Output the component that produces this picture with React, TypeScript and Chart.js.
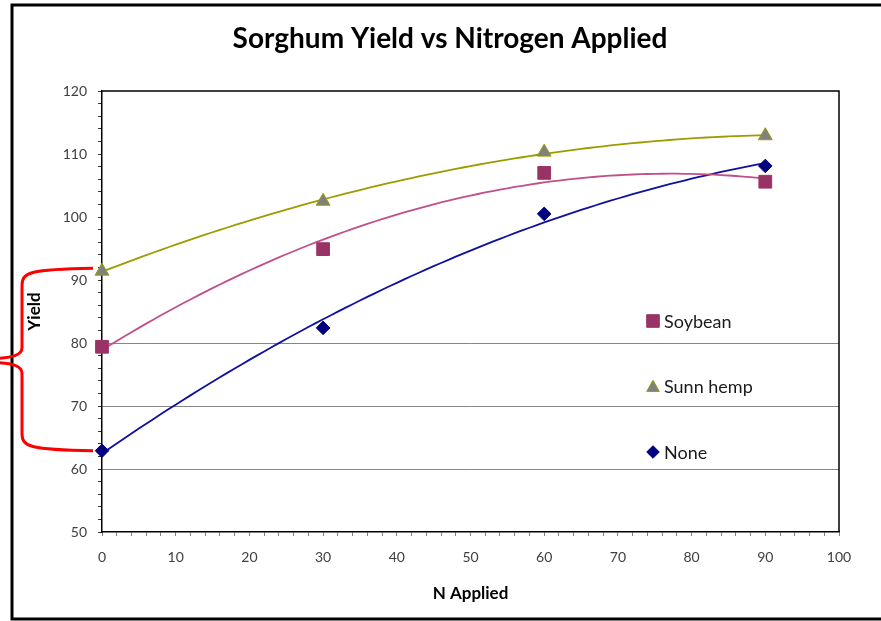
import React, { useEffect, useRef } from 'react';
import { Chart, registerables } from 'chart.js';
Chart.register(...registerables);

const chartTitle = 'Sorghum Yield vs Nitrogen Applied';
const xTitle = 'N Applied';
const yTitle = 'Yield';
const nApplied = [0, 30, 60, 90];
const soybean = [79.4, 94.9, 107.0, 105.6];
const sunnHemp = [91.4, 102.5, 110.3, 112.9];
const noneCover = [62.9, 82.4, 100.5, 108.1];
const seriesNames = ['Soybean', 'Sunn hemp', 'None'];
const yGridValues = [60, 70, 80];

const FONT = 'Lato, "Open Sans", sans-serif';

function quadFit(xs: number[], ys: number[]): number[] {
  const S = [0, 0, 0, 0, 0];
  const T = [0, 0, 0];
  for (let i = 0; i < xs.length; i++) {
    for (let k = 0; k < 5; k++) S[k] += Math.pow(xs[i], k);
    for (let k = 0; k < 3; k++) T[k] += ys[i] * Math.pow(xs[i], k);
  }
  const A = [
    [S[0], S[1], S[2], T[0]],
    [S[1], S[2], S[3], T[1]],
    [S[2], S[3], S[4], T[2]],
  ];
  for (let c = 0; c < 3; c++) {
    let p = c;
    for (let r = c + 1; r < 3; r++) if (Math.abs(A[r][c]) > Math.abs(A[p][c])) p = r;
    [A[c], A[p]] = [A[p], A[c]];
    for (let r = 0; r < 3; r++) {
      if (r === c) continue;
      const f = A[r][c] / A[c][c];
      for (let k = c; k < 4; k++) A[r][k] -= f * A[c][k];
    }
  }
  return [A[0][3] / A[0][0], A[1][3] / A[1][1], A[2][3] / A[2][2]];
}

function trend(ys: number[]) {
  const [a, b, c] = quadFit(nApplied, ys);
  const out: { x: number; y: number }[] = [];
  const xmax = nApplied[nApplied.length - 1];
  for (let x = nApplied[0]; x <= xmax; x += 1) out.push({ x, y: a + b * x + c * x * x });
  return out;
}

const pts = (ys: number[]) => nApplied.map((x, i) => ({ x, y: ys[i] }));

const styles = [
  { marker: '#993366', border: '#993366', line: '#C0508A', shape: 'rect', r: 9 },
  { marker: '#808080', border: '#9C9C00', line: '#9C9C00', shape: 'triangle', r: 8 },
  { marker: '#000080', border: '#000080', line: '#1010A0', shape: 'rectRot', r: 6.8 },
];

function drawShape(ctx: CanvasRenderingContext2D, shape: string, x: number, y: number, fill: string, stroke: string) {
  const h = 6.3;
  ctx.save();
  ctx.fillStyle = fill;
  ctx.strokeStyle = stroke;
  ctx.lineWidth = 1;
  ctx.beginPath();
  if (shape === 'rect') {
    ctx.rect(x - h, y - h, 2 * h, 2 * h);
  } else if (shape === 'triangle') {
    ctx.moveTo(x, y - h);
    ctx.lineTo(x + h, y + h * 0.8);
    ctx.lineTo(x - h, y + h * 0.8);
    ctx.closePath();
  } else {
    ctx.moveTo(x, y - h);
    ctx.lineTo(x + h, y);
    ctx.lineTo(x, y + h);
    ctx.lineTo(x - h, y);
    ctx.closePath();
  }
  ctx.fill();
  ctx.stroke();
  ctx.restore();
}

const decorPlugin = {
  id: 'decor',
  afterDraw(chart: any) {
    const { ctx, chartArea: ca, scales } = chart;
    const ys = scales.y;
    ctx.save();
    // title
    ctx.fillStyle = '#000';
    ctx.font = `bold 28px ${FONT}`;
    ctx.textAlign = 'center';
    ctx.textBaseline = 'middle';
    ctx.fillText(chartTitle, 450, 39);

    // plot area top/right border
    ctx.strokeStyle = '#000';
    ctx.lineWidth = 1.5;
    ctx.beginPath();
    ctx.moveTo(ca.left, ca.top);
    ctx.lineTo(ca.right, ca.top);
    ctx.lineTo(ca.right, ca.bottom);
    ctx.stroke();

    // outer frame
    ctx.lineWidth = 3;
    ctx.beginPath();
    ctx.moveTo(chart.width + 5, 5);
    ctx.lineTo(12, 5);
    ctx.lineTo(12, 619);
    ctx.lineTo(chart.width + 5, 619);
    ctx.stroke();

    // legend
    const lx = ca.left + 551;
    const ly0 = ca.top + 230;
    const gap = 65.5;
    ctx.font = `18px ${FONT}`;
    ctx.textBaseline = 'middle';
    ctx.textAlign = 'left';
    seriesNames.forEach((name, i) => {
      const st = styles[i];
      const y = ly0 + i * gap;
      drawShape(ctx, st.shape, lx, y, st.marker, st.border);
      ctx.fillStyle = '#1a1a1a';
      ctx.fillText(name, lx + 11, y + 1);
    });

    // red brace annotation
    const top = ys.getPixelForValue(sunnHemp[0]) - 3;
    const bot = ys.getPixelForValue(noneCover[0]);
    const mid = (top + bot) / 2;
    const xa = ca.left - 9;
    const xv = ca.left - 80;
    const xp = ca.left - 106;
    ctx.strokeStyle = '#FF0000';
    ctx.lineWidth = 3;
    ctx.lineJoin = 'round';
    ctx.beginPath();
    ctx.moveTo(xa, top);
    ctx.bezierCurveTo(xv + 8, top + 1, xv, top + 4, xv, top + 17);
    ctx.lineTo(xv, mid - 12);
    ctx.bezierCurveTo(xv, mid - 4, xv - 10, mid - 2, xp, mid - 1);
    ctx.moveTo(xp, mid + 3);
    ctx.bezierCurveTo(xv - 10, mid + 4, xv, mid + 6, xv, mid + 14);
    ctx.lineTo(xv, bot - 17);
    ctx.bezierCurveTo(xv, bot - 4, xv + 8, bot - 1, xa, bot);
    ctx.stroke();
    ctx.restore();
  },
};

export default function App() {
  const ref = useRef<HTMLCanvasElement>(null);
  useEffect(() => {
    if (!ref.current) return;
    const seriesData = [soybean, sunnHemp, noneCover];
    const datasets: any[] = [];
    seriesData.forEach((ys, i) => {
      const st = styles[i];
      datasets.push({
        label: seriesNames[i] + ' trend',
        data: trend(ys),
        showLine: true,
        borderColor: st.line,
        borderWidth: 1.8,
        pointRadius: 0,
        tension: 0,
        order: 2,
        clip: false,
      });
    });
    seriesData.forEach((ys, i) => {
      const st = styles[i];
      datasets.push({
        label: seriesNames[i],
        data: pts(ys),
        showLine: false,
        pointStyle: st.shape,
        pointRadius: st.r,
        backgroundColor: st.marker,
        borderColor: st.border,
        borderWidth: 1,
        order: 1,
        clip: false,
      });
    });
    const chart = new Chart(ref.current, {
      type: 'scatter',
      data: { datasets },
      plugins: [decorPlugin],
      options: {
        responsive: false,
        animation: false,
        layout: { padding: { left: 0, right: 42, top: 91, bottom: 0 } },
        plugins: {
          legend: { display: false },
          tooltip: { enabled: false },
          title: { display: false },
        },
        scales: {
          x: {
            type: 'linear',
            min: 0,
            max: 100,
            afterFit: (s: any) => { s.height = 89; },
            ticks: {
              stepSize: 2,
              autoSkip: false,
              maxRotation: 0,
              padding: 13,
              color: '#404040',
              font: { family: FONT, size: 14 },
              callback: (v: any) => (Number(v) % 10 === 0 ? String(v) : ''),
            },
            grid: {
              color: 'rgba(0,0,0,0)',
              tickColor: '#808080',
              tickLength: 4,
            },
            border: { color: '#000', width: 1.5 },
            title: {
              display: true,
              text: xTitle,
              color: '#000',
              font: { family: FONT, size: 17, weight: 'bold' },
              padding: { top: 0, bottom: 17 },
            },
          },
          y: {
            type: 'linear',
            min: 50,
            max: 120,
            afterFit: (s: any) => { s.width = 102; },
            ticks: {
              stepSize: 2,
              autoSkip: false,
              padding: 11,
              color: '#404040',
              font: { family: FONT, size: 14 },
              callback: (v: any) => (Number(v) % 10 === 0 ? String(v) : ''),
            },
            grid: {
              color: (c: any) => (yGridValues.includes(c.tick?.value) ? '#868686' : 'rgba(0,0,0,0)'),
              lineWidth: 1,
              tickColor: '#333',
              tickLength: 4,
            },
            border: { color: '#000', width: 1.5 },
            title: {
              display: true,
              text: yTitle,
              color: '#000',
              font: { family: FONT, size: 17, weight: 'bold' },
              padding: { top: 24, bottom: 0 },
            },
          },
        },
      } as any,
    });
    return () => chart.destroy();
  }, []);
  return (
    <div style={{ position: 'absolute', left: 0, top: 0, width: 881, height: 621, background: '#fff' }}>
      <canvas ref={ref} width={881} height={621} style={{ display: 'block' }} />
    </div>
  );
}
